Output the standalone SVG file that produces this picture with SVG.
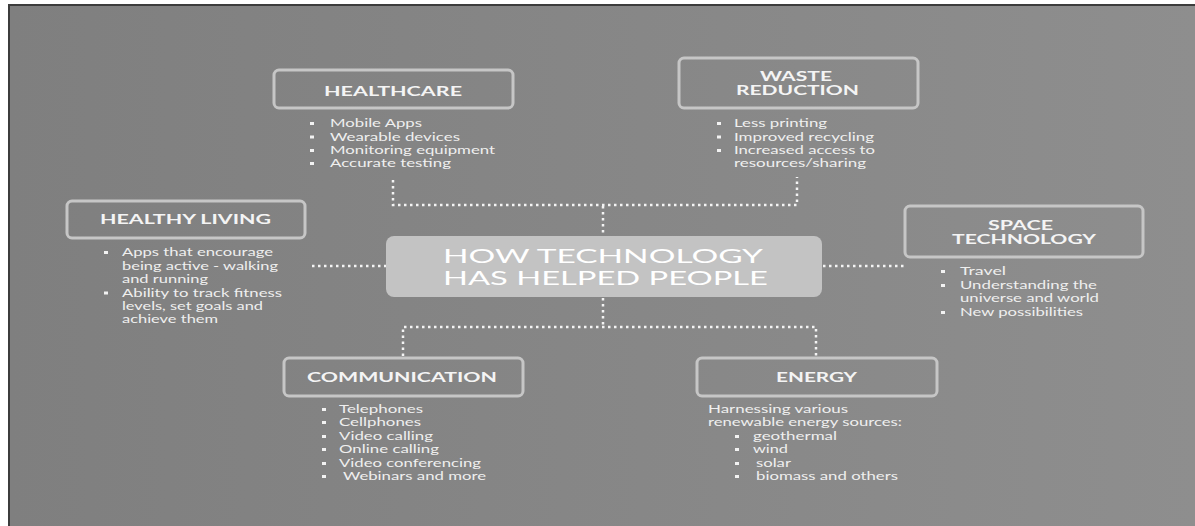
<svg xmlns="http://www.w3.org/2000/svg" width="1195" height="526" viewBox="0 0 1195 526">
<defs>
<linearGradient id="bg" x1="0" y1="0" x2="1" y2="0">
<stop offset="0" stop-color="#7f7f7f"/>
<stop offset="1" stop-color="#8e8e8e"/>
</linearGradient>
</defs>
<style>
.box{fill:none;stroke:#c6c6c6;stroke-width:3}
.hd{font-family:Lato,"Liberation Sans",sans-serif;font-weight:bold;font-size:13px;fill:#f4f4f4}
.tx{font-family:Lato,"Liberation Sans",sans-serif;font-size:11.5px;fill:#efefef}
.ct{font-family:Lato,"Liberation Sans",sans-serif;font-size:20px;fill:#ffffff}
.bl{fill:#f2f2f2}
.dot{fill:none;stroke:#f4f4f4;stroke-width:2.5;stroke-dasharray:2.5 3.5}
</style>
<rect x="0" y="0" width="1195" height="526" fill="#ffffff"/>
<rect x="8" y="4" width="1187" height="522" fill="#3c3c3c"/>
<rect x="10" y="6" width="1185" height="520" fill="url(#bg)"/>

<g id="connectors">
<path class="dot" d="M393 180 V205 H797 V177"/>
<path class="dot" d="M603 206 V236"/>
<path class="dot" d="M603 298 V327"/>
<path class="dot" d="M403 356 V327 H816 V356"/>
<path class="dot" d="M312 266 H386"/>
<path class="dot" d="M823 266 H904"/>
</g>

<g id="center">
<rect x="386" y="236" width="436" height="61" rx="8" fill="#c3c3c3"/>
<text class="ct" x="443" y="263" textLength="320" lengthAdjust="spacingAndGlyphs">HOW TECHNOLOGY</text>
<text class="ct" x="443" y="285" textLength="325" lengthAdjust="spacingAndGlyphs">HAS HELPED PEOPLE</text>
</g>

<g id="healthcare">
<rect class="box" x="274" y="70" width="239" height="38" rx="5"/>
<text class="hd" x="324" y="96" textLength="138" lengthAdjust="spacingAndGlyphs">HEALTHCARE</text>
<rect class="bl" x="310" y="122" width="4" height="3"/>
<rect class="bl" x="310" y="135.5" width="4" height="3"/>
<rect class="bl" x="310" y="149" width="4" height="3"/>
<rect class="bl" x="310" y="162" width="4" height="3"/>
<text class="tx" x="330" y="127" textLength="92" lengthAdjust="spacingAndGlyphs">Mobile Apps</text>
<text class="tx" x="330" y="140.5" textLength="130" lengthAdjust="spacingAndGlyphs">Wearable devices</text>
<text class="tx" x="330" y="154" textLength="165" lengthAdjust="spacingAndGlyphs">Monitoring equipment</text>
<text class="tx" x="330" y="167" textLength="121" lengthAdjust="spacingAndGlyphs">Accurate testing</text>
</g>

<g id="waste">
<rect class="box" x="679" y="58" width="239" height="50" rx="5"/>
<text class="hd" x="760" y="81" textLength="72" lengthAdjust="spacingAndGlyphs">WASTE</text>
<text class="hd" x="736" y="95" textLength="123" lengthAdjust="spacingAndGlyphs">REDUCTION</text>
<rect class="bl" x="717" y="122" width="4" height="3"/>
<rect class="bl" x="717" y="135.5" width="4" height="3"/>
<rect class="bl" x="717" y="149" width="4" height="3"/>
<text class="tx" x="734" y="127" textLength="93" lengthAdjust="spacingAndGlyphs">Less printing</text>
<text class="tx" x="734" y="140.5" textLength="140" lengthAdjust="spacingAndGlyphs">Improved recycling</text>
<text class="tx" x="734" y="154" textLength="141" lengthAdjust="spacingAndGlyphs">Increased access to</text>
<text class="tx" x="734" y="167" textLength="132" lengthAdjust="spacingAndGlyphs">resources/sharing</text>
</g>

<g id="healthy-living">
<rect class="box" x="67" y="201" width="238" height="37" rx="5"/>
<text class="hd" x="100" y="224" textLength="171" lengthAdjust="spacingAndGlyphs">HEALTHY LIVING</text>
<rect class="bl" x="104" y="251" width="4" height="3"/>
<rect class="bl" x="104" y="291.5" width="4" height="3"/>
<text class="tx" x="122" y="256" textLength="151" lengthAdjust="spacingAndGlyphs">Apps that encourage</text>
<text class="tx" x="122" y="269.5" textLength="156" lengthAdjust="spacingAndGlyphs">being active - walking</text>
<text class="tx" x="122" y="283" textLength="86" lengthAdjust="spacingAndGlyphs">and running</text>
<text class="tx" x="122" y="296.5" textLength="160" lengthAdjust="spacingAndGlyphs">Ability to track fitness</text>
<text class="tx" x="122" y="310" textLength="141" lengthAdjust="spacingAndGlyphs">levels, set goals and</text>
<text class="tx" x="122" y="323" textLength="96" lengthAdjust="spacingAndGlyphs">achieve them</text>
</g>

<g id="space">
<rect class="box" x="905" y="206" width="238" height="51" rx="5"/>
<text class="hd" x="988" y="230" textLength="65" lengthAdjust="spacingAndGlyphs">SPACE</text>
<text class="hd" x="952" y="244" textLength="144" lengthAdjust="spacingAndGlyphs">TECHNOLOGY</text>
<rect class="bl" x="941" y="270" width="4" height="3"/>
<rect class="bl" x="941" y="284" width="4" height="3"/>
<rect class="bl" x="941" y="311" width="4" height="3"/>
<text class="tx" x="960" y="275" textLength="46" lengthAdjust="spacingAndGlyphs">Travel</text>
<text class="tx" x="960" y="289" textLength="137" lengthAdjust="spacingAndGlyphs">Understanding the</text>
<text class="tx" x="960" y="302" textLength="139" lengthAdjust="spacingAndGlyphs">universe and world</text>
<text class="tx" x="960" y="316" textLength="123" lengthAdjust="spacingAndGlyphs">New possibilities</text>
</g>

<g id="communication">
<rect class="box" x="284" y="358" width="239" height="38" rx="5"/>
<text class="hd" x="307" y="382" textLength="190" lengthAdjust="spacingAndGlyphs">COMMUNICATION</text>
<rect class="bl" x="322" y="408" width="4" height="3"/>
<rect class="bl" x="322" y="421" width="4" height="3"/>
<rect class="bl" x="322" y="435" width="4" height="3"/>
<rect class="bl" x="322" y="448" width="4" height="3"/>
<rect class="bl" x="322" y="462" width="4" height="3"/>
<rect class="bl" x="322" y="475" width="4" height="3"/>
<text class="tx" x="339" y="413" textLength="84" lengthAdjust="spacingAndGlyphs">Telephones</text>
<text class="tx" x="339" y="426" textLength="82" lengthAdjust="spacingAndGlyphs">Cellphones</text>
<text class="tx" x="339" y="440" textLength="94" lengthAdjust="spacingAndGlyphs">Video calling</text>
<text class="tx" x="339" y="453" textLength="100" lengthAdjust="spacingAndGlyphs">Online calling</text>
<text class="tx" x="339" y="467" textLength="142" lengthAdjust="spacingAndGlyphs">Video conferencing</text>
<text class="tx" x="343" y="480" textLength="143" lengthAdjust="spacingAndGlyphs">Webinars and more</text>
</g>

<g id="energy">
<rect class="box" x="697" y="358" width="240" height="38" rx="5"/>
<text class="hd" x="776" y="382" textLength="81" lengthAdjust="spacingAndGlyphs">ENERGY</text>
<text class="tx" x="708" y="413" textLength="140" lengthAdjust="spacingAndGlyphs">Harnessing various</text>
<text class="tx" x="708" y="426" textLength="194" lengthAdjust="spacingAndGlyphs">renewable energy sources:</text>
<rect class="bl" x="735" y="435" width="4" height="3"/>
<rect class="bl" x="735" y="448" width="4" height="3"/>
<rect class="bl" x="735" y="462" width="4" height="3"/>
<rect class="bl" x="735" y="475" width="4" height="3"/>
<text class="tx" x="753" y="440" textLength="84" lengthAdjust="spacingAndGlyphs">geothermal</text>
<text class="tx" x="753" y="453" textLength="35" lengthAdjust="spacingAndGlyphs">wind</text>
<text class="tx" x="756" y="467" textLength="35" lengthAdjust="spacingAndGlyphs">solar</text>
<text class="tx" x="756" y="480" textLength="142" lengthAdjust="spacingAndGlyphs">biomass and others</text>
</g>
</svg>
